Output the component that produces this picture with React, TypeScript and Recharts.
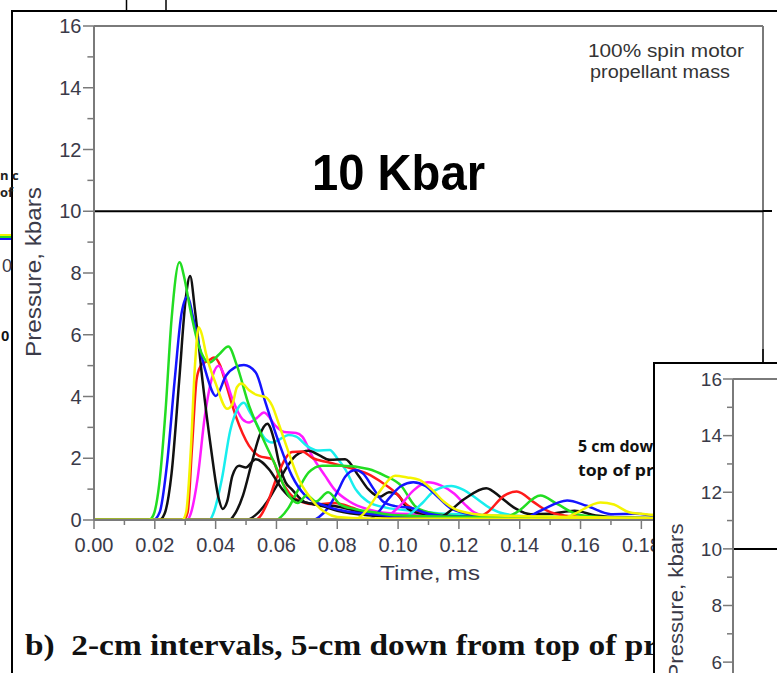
import React from 'react';
import { LineChart, Line, XAxis, YAxis, ReferenceLine } from 'recharts';

type Pt = [number, number];

// time (ms) vs pressure (kbars)
const greenA: Pt[] = [[0, 0], [0.018, 0], [0.0195, 0.15], [0.0215, 1.2], [0.0235, 3.5], [0.0255, 6.5], [0.0281, 8.35], [0.0298, 7.8], [0.0314, 6.95], [0.0346, 5.6], [0.038, 5.1], [0.041, 5.35], [0.0442, 5.62], [0.047, 5.0], [0.051, 3.7], [0.0553, 2.7], [0.0597, 1.76], [0.064, 0.8], [0.067, 0.55], [0.07, 0.8], [0.073, 0.6], [0.077, 0.9], [0.081, 0.5], [0.086, 0.35], [0.092, 0.25], [0.1, 0.15], [0.12, 0.1], [0.2, 0.05]];
const blackA: Pt[] = [[0, 0], [0.0215, 0], [0.0232, 0.2], [0.0255, 1.5], [0.028, 4.5], [0.0302, 7.2], [0.0316, 7.9], [0.0332, 6.8], [0.0357, 4.5], [0.0385, 2.3], [0.041, 0.7], [0.0423, 0.36], [0.0438, 0.6], [0.0455, 1.43], [0.0477, 1.76], [0.0499, 1.7], [0.0532, 1.97], [0.0575, 1.65], [0.0619, 1.0], [0.065, 0.7], [0.0695, 0.57], [0.075, 0.45], [0.08, 0.3], [0.09, 0.15], [0.1, 0.1], [0.2, 0.05]];
const blueA: Pt[] = [[0, 0], [0.0195, 0], [0.0216, 0.25], [0.024, 1.8], [0.0265, 4.5], [0.0288, 6.7], [0.0308, 7.25], [0.0325, 6.6], [0.0346, 5.64], [0.0368, 4.78], [0.0401, 4.02], [0.0434, 4.67], [0.0465, 4.95], [0.0493, 5.02], [0.0532, 4.78], [0.0564, 3.8], [0.0608, 2.51], [0.0651, 1.43], [0.0695, 0.79], [0.076, 0.46], [0.082, 0.3], [0.09, 0.2], [0.1, 0.12], [0.2, 0.05]];
const yellowA: Pt[] = [[0, 0], [0.029, 0], [0.0303, 0.25], [0.0318, 2.2], [0.0332, 5.0], [0.0344, 6.24], [0.0355, 6.0], [0.0368, 5.4], [0.0401, 4.4], [0.0438, 3.6], [0.0455, 3.75], [0.047, 4.3], [0.0485, 4.42], [0.051, 4.2], [0.0535, 4.05], [0.0564, 3.98], [0.0586, 3.7], [0.0608, 3.1], [0.064, 2.19], [0.0673, 1.33], [0.0706, 0.79], [0.076, 0.25], [0.08, 0.1], [0.09, 0.05], [0.2, 0.02]];
const redA: Pt[] = [[0, 0], [0.0295, 0], [0.0308, 0.25], [0.0322, 2.3], [0.0338, 4.6], [0.0355, 5.05], [0.0375, 5.15], [0.0395, 5.26], [0.0415, 5.0], [0.0434, 4.4], [0.0466, 3.37], [0.051, 2.4], [0.0542, 2.08], [0.0586, 1.97], [0.0608, 1.43], [0.064, 0.9], [0.068, 0.6], [0.073, 0.5], [0.079, 0.55], [0.085, 0.4], [0.09, 0.2], [0.1, 0.1], [0.2, 0.03]];
const magentaA: Pt[] = [[0, 0], [0.0305, 0], [0.0318, 0.2], [0.034, 1.3], [0.0365, 3.4], [0.039, 4.67], [0.041, 5.0], [0.0428, 4.7], [0.0455, 3.92], [0.0488, 3.27], [0.051, 3.16], [0.0535, 3.3], [0.0559, 3.48], [0.0597, 3.05], [0.0625, 2.85], [0.0665, 2.82], [0.0685, 2.7], [0.0717, 2.08], [0.076, 1.43], [0.079, 1.0], [0.084, 0.6], [0.09, 0.35], [0.1, 0.2], [0.2, 0.05]];
const cyanA: Pt[] = [[0, 0], [0.038, 0], [0.0392, 0.2], [0.042, 1.3], [0.0448, 2.9], [0.0475, 3.65], [0.0493, 3.8], [0.0512, 3.5], [0.0532, 3.16], [0.0564, 2.62], [0.0586, 2.51], [0.0612, 2.62], [0.064, 2.75], [0.0665, 2.7], [0.07, 2.4], [0.0735, 2.25], [0.0775, 2.27], [0.08, 2.0], [0.0826, 1.65], [0.086, 1.0], [0.09, 0.6], [0.096, 0.4], [0.105, 0.3], [0.115, 0.2], [0.2, 0.05]];
const blackB: Pt[] = [[0, 0], [0.0445, 0], [0.0458, 0.12], [0.049, 0.8], [0.052, 1.9], [0.0545, 2.75], [0.057, 3.12], [0.0592, 2.6], [0.0608, 1.87], [0.063, 1.22], [0.065, 1.0], [0.0695, 0.57], [0.074, 0.5], [0.079, 0.45], [0.084, 0.35], [0.09, 0.2], [0.1, 0.1], [0.2, 0.03]];
const blackC: Pt[] = [[0, 0], [0.05, 0], [0.053, 0.15], [0.057, 0.6], [0.06, 1.1], [0.063, 1.65], [0.0665, 2.1], [0.0706, 2.24], [0.074, 2.1], [0.0775, 1.95], [0.0826, 1.97], [0.087, 1.43], [0.0902, 1.0], [0.094, 0.75], [0.097, 0.9], [0.0995, 0.85], [0.1033, 0.36], [0.108, 0.2], [0.115, 0.12], [0.2, 0.03]];
const redB: Pt[] = [[0, 0], [0.053, 0], [0.0545, 0.1], [0.057, 0.55], [0.06, 1.35], [0.063, 2.0], [0.0651, 2.2], [0.0684, 2.22], [0.072, 2.0], [0.077, 1.87], [0.0837, 1.7], [0.09, 1.49], [0.0946, 1.22], [0.099, 0.9], [0.1033, 0.46], [0.108, 0.25], [0.115, 0.15], [0.13, 0.05], [0.2, 0.02]];
const greenB: Pt[] = [[0, 0], [0.06, 0], [0.0615, 0.1], [0.064, 0.4], [0.067, 0.95], [0.0706, 1.54], [0.075, 1.76], [0.0815, 1.76], [0.0902, 1.65], [0.0957, 1.43], [0.101, 1.11], [0.1055, 0.46], [0.11, 0.25], [0.12, 0.12], [0.2, 0.03]];
const blueB: Pt[] = [[0, 0], [0.072, 0], [0.074, 0.1], [0.077, 0.4], [0.08, 0.9], [0.0826, 1.4], [0.086, 1.62], [0.0885, 1.5], [0.092, 1.0], [0.095, 0.6], [0.099, 0.45], [0.104, 0.4], [0.11, 0.2], [0.12, 0.1], [0.2, 0.03]];
const yellowB: Pt[] = [[0, 0], [0.085, 0], [0.088, 0.14], [0.091, 0.5], [0.0945, 1.0], [0.099, 1.43], [0.103, 1.38], [0.107, 1.3], [0.111, 1.0], [0.115, 0.6], [0.12, 0.3], [0.13, 0.15], [0.2, 0.05]];
const blueC: Pt[] = [[0, 0], [0.09, 0], [0.093, 0.2], [0.097, 0.7], [0.101, 1.1], [0.105, 1.22], [0.109, 1.1], [0.113, 0.75], [0.117, 0.4], [0.123, 0.2], [0.13, 0.1], [0.2, 0.03]];
const magentaB: Pt[] = [[0, 0], [0.094, 0], [0.097, 0.15], [0.101, 0.5], [0.105, 0.95], [0.1098, 1.22], [0.114, 1.12], [0.1185, 0.85], [0.122, 0.5], [0.125, 0.25], [0.13, 0.12], [0.2, 0.03]];
const cyanB: Pt[] = [[0, 0], [0.1, 0], [0.104, 0.2], [0.108, 0.55], [0.112, 0.95], [0.1175, 1.1], [0.121, 1.0], [0.126, 0.68], [0.13, 0.4], [0.135, 0.2], [0.145, 0.1], [0.2, 0.03]];
const blackD: Pt[] = [[0, 0], [0.112, 0], [0.115, 0.14], [0.1218, 0.68], [0.129, 1.03], [0.1338, 0.73], [0.138, 0.41], [0.1436, 0.19], [0.15, 0.2], [0.158, 0.3], [0.165, 0.15], [0.175, 0.08], [0.2, 0.03]];
const redC: Pt[] = [[0, 0], [0.123, 0], [0.1294, 0.25], [0.1349, 0.79], [0.139, 0.92], [0.1447, 0.57], [0.149, 0.3], [0.155, 0.14], [0.165, 0.08], [0.2, 0.03]];
const greenC: Pt[] = [[0, 0], [0.132, 0], [0.139, 0.25], [0.1468, 0.79], [0.1523, 0.52], [0.1588, 0.19], [0.166, 0.1], [0.2, 0.03]];
const blueD: Pt[] = [[0, 0], [0.14, 0], [0.1468, 0.3], [0.1556, 0.63], [0.162, 0.46], [0.17, 0.19], [0.178, 0.2], [0.185, 0.12], [0.2, 0.05]];
const yellowC: Pt[] = [[0, 0], [0.152, 0], [0.158, 0.2], [0.1665, 0.57], [0.171, 0.5], [0.176, 0.25], [0.18, 0.2], [0.19, 0.12], [0.2, 0.05]];

// the next panel only shows its upper axis; its traces sit below the page edge
const insetBaseline: Pt[] = [[0, 0], [0.22, 0]];

// ticks past 0.18 sit under the next panel
const xTicks = [0, 0.01, 0.02, 0.03, 0.04, 0.05, 0.06, 0.07, 0.08, 0.09, 0.1, 0.11, 0.12, 0.13, 0.14, 0.15, 0.16, 0.17, 0.18];
const yTicks = [0, 1, 2, 3, 4, 5, 6, 7, 8, 9, 10, 11, 12, 13, 14, 15, 16];
const insetYTicks = [6, 7, 8, 9, 10, 11, 12, 13, 14, 15, 16];

const GREEN = '#22dd22';
const BLACK = '#111111';
const BLUE = '#1414ff';
const YELLOW = '#f4f400';
const RED = '#ff1a1a';
const MAGENTA = '#ff1aff';
const CYAN = '#18eeee';

// bottom -> top drawing order
const series = [
  { id: 'redA', color: RED, pts: redA },
  { id: 'magentaA', color: MAGENTA, pts: magentaA },
  { id: 'cyanA', color: CYAN, pts: cyanA },
  { id: 'blackB', color: BLACK, pts: blackB },
  { id: 'blackC', color: BLACK, pts: blackC },
  { id: 'redB', color: RED, pts: redB },
  { id: 'greenB', color: GREEN, pts: greenB },
  { id: 'blueB', color: BLUE, pts: blueB },
  { id: 'magentaB', color: MAGENTA, pts: magentaB },
  { id: 'cyanB', color: CYAN, pts: cyanB },
  { id: 'blueC', color: BLUE, pts: blueC },
  { id: 'blackD', color: BLACK, pts: blackD },
  { id: 'redC', color: RED, pts: redC },
  { id: 'greenC', color: GREEN, pts: greenC },
  { id: 'blueD', color: BLUE, pts: blueD },
  { id: 'blackA', color: BLACK, pts: blackA },
  { id: 'blueA', color: BLUE, pts: blueA },
  { id: 'greenA', color: GREEN, pts: greenA },
  { id: 'yellowA', color: YELLOW, pts: yellowA },
  { id: 'yellowB', color: YELLOW, pts: yellowB },
  { id: 'yellowC', color: YELLOW, pts: yellowC },
];

const SANS = 'Liberation Sans, Arial, sans-serif';
const AXIS = '#7a7a7a';
const LABEL = '#3a3a48';

const toRows = (pts: Pt[]) => pts.map(([t, p]) => ({ t, p }));

function XTick(props: any) {
  const { x, y, payload } = props;
  const major = Math.round(payload.value * 100) % 2 === 0;
  return (
    <g>
      <line x1={x} x2={x} y1={y} y2={y + (major ? 9 : 5)} stroke={AXIS} strokeWidth={1.5} />
      {major && (
        <text x={x} y={y + 32} textAnchor="middle" fontSize={20} fill={LABEL} fontFamily={SANS}>
          {payload.value.toFixed(2)}
        </text>
      )}
    </g>
  );
}

function makeYTick(fontSize: number, gap: number, len: number) {
  return function YTick(props: any) {
    const { x, y, payload } = props;
    const major = payload.value % 2 === 0;
    return (
      <g>
        <line x1={x - (major ? len : len * 0.6)} x2={x} y1={y} y2={y} stroke={AXIS} strokeWidth={1.5} />
        {major && (
          <text x={x - gap} y={y + fontSize * 0.36} textAnchor="end" fontSize={fontSize} fill={LABEL} fontFamily={SANS}>
            {payload.value}
          </text>
        )}
      </g>
    );
  };
}

const MainYTick = makeYTick(20, 12.5, 11);
const InsetYTick = makeYTick(19, 11, 10);

export default function App() {
  return (
    <div style={{ position: 'absolute', left: 0, top: 0, width: 777, height: 673, background: '#fff', overflow: 'hidden' }}>
      <div style={{ position: 'absolute', left: 0, top: 0 }}>
        <LineChart width={777} height={673} margin={{ top: 26, right: 14, bottom: 113, left: 34 }}>
          <XAxis
            dataKey="t"
            type="number"
            domain={[0, 0.22]}
            ticks={xTicks}
            interval={0}
            tickSize={0}
            tickMargin={0}
            tickLine={false}
            tick={<XTick />}
            height={40}
            axisLine={{ stroke: AXIS, strokeWidth: 2 }}
            allowDataOverflow
          />
          <YAxis
            type="number"
            domain={[0, 16]}
            ticks={yTicks}
            interval={0}
            tickSize={0}
            tickMargin={0}
            tickLine={false}
            tick={<MainYTick />}
            width={60}
            axisLine={{ stroke: AXIS, strokeWidth: 2 }}
            allowDataOverflow
          />
          <ReferenceLine segment={[{ x: 0, y: 16 }, { x: 0.22, y: 16 }]} stroke={AXIS} strokeWidth={2} />
          <ReferenceLine segment={[{ x: 0.22, y: 0 }, { x: 0.22, y: 16 }]} stroke={AXIS} strokeWidth={2} />
          <ReferenceLine y={10} stroke="#000" strokeWidth={2} />
          {series.map((s) => (
            <Line
              key={s.id}
              data={toRows(s.pts)}
              dataKey="p"
              type="monotone"
              stroke={s.color}
              strokeWidth={2.5}
              dot={false}
              activeDot={false}
              isAnimationActive={false}
            />
          ))}
        </LineChart>
      </div>

      <svg width={777} height={673} style={{ position: 'absolute', left: 0, top: 0, pointerEvents: 'none' }}>
        {/* page frame */}
        <line x1={12} y1={11} x2={777} y2={11} stroke="#000" strokeWidth={2} />
        <line x1={12} y1={10} x2={12} y2={673} stroke="#000" strokeWidth={2} />
        <line x1={126.5} y1={0} x2={126.5} y2={11} stroke="#000" strokeWidth={1.5} />
        <line x1={166} y1={0} x2={166} y2={11} stroke="#000" strokeWidth={1.5} />
        <line x1={763} y1={211} x2={772} y2={211} stroke="#000" strokeWidth={2} />

        {/* fragments of the neighbouring panel */}
        <text x={0} y={180} fontSize={13} fontWeight="bold" fill="#222" fontFamily="Open Sans, sans-serif">n c</text>
        <text x={0} y={197} fontSize={13} fontWeight="bold" fill="#222" fontFamily="Open Sans, sans-serif">of</text>
        <line x1={0} y1={235} x2={11} y2={235} stroke={YELLOW} strokeWidth={2} />
        <line x1={0} y1={237} x2={11} y2={237} stroke={GREEN} strokeWidth={2} />
        <line x1={0} y1={239} x2={11} y2={239} stroke={BLUE} strokeWidth={2} />
        <text x={2} y={272} fontSize={18} fill={LABEL} fontFamily={SANS}>0</text>
        <text x={1} y={341} fontSize={15} fontWeight="bold" fill="#111" fontFamily={SANS}>0</text>

        {/* annotations */}
        <text x={312} y={190} fontSize={50} fontWeight="bold" fill="#000" fontFamily={SANS} textLength={173} lengthAdjust="spacingAndGlyphs">10 Kbar</text>
        <text x={588} y={57} fontSize={18} fill="#333" fontFamily={SANS} textLength={156} lengthAdjust="spacingAndGlyphs">100% spin motor</text>
        <text x={590} y={78} fontSize={18} fill="#333" fontFamily={SANS} textLength={140} lengthAdjust="spacingAndGlyphs">propellant mass</text>
        <text x={578} y={452} fontSize={16} fontWeight="bold" fill="#111" fontFamily="Open Sans, sans-serif">5 cm dow</text>
        <text x={578} y={476} fontSize={16} fontWeight="bold" fill="#111" fontFamily="Open Sans, sans-serif" textLength={76} lengthAdjust="spacingAndGlyphs">top of pr</text>

        {/* axis titles */}
        <text x={380} y={580} fontSize={21} fill={LABEL} fontFamily={SANS} textLength={100} lengthAdjust="spacingAndGlyphs">Time, ms</text>
        <text
          x={33}
          y={272}
          dy="0.36em"
          fontSize={22}
          fill={LABEL}
          fontFamily={SANS}
          textAnchor="middle"
          transform="rotate(-90 33 272)"
          textLength={170}
          lengthAdjust="spacingAndGlyphs"
        >
          Pressure, kbars
        </text>

        {/* caption */}
        <text
          x={25}
          y={655}
          fontSize={29}
          fontWeight="bold"
          fill="#111"
          fontFamily="Liberation Serif, Times New Roman, serif"
          xmlSpace="preserve"
          textLength={633}
          lengthAdjust="spacingAndGlyphs"
        >
          {'b)  2-cm intervals, 5-cm down from top of pr'}
        </text>
        <line x1={763} y1={349} x2={763} y2={362} stroke="#000" strokeWidth={1.5} />
      </svg>

      {/* inset: next panel, partly visible */}
      <div
        style={{
          position: 'absolute',
          left: 653,
          top: 362,
          width: 124,
          height: 311,
          overflow: 'hidden',
          background: '#fff',
          borderLeft: '2px solid #000',
          borderTop: '2px solid #000',
          boxSizing: 'border-box',
        }}
      >
        <div style={{ position: 'absolute', left: 0, top: 0 }}>
          <LineChart width={300} height={488} margin={{ top: 15, right: 10, bottom: 20, left: 18 }}>
            <XAxis dataKey="t" type="number" domain={[0, 0.22]} hide />
            <YAxis
              type="number"
              domain={[0, 16]}
              ticks={insetYTicks}
              interval={0}
              tickSize={0}
              tickMargin={0}
              tickLine={false}
              tick={<InsetYTick />}
              width={60}
              axisLine={{ stroke: AXIS, strokeWidth: 2 }}
            />
            <ReferenceLine y={16} stroke={AXIS} strokeWidth={2} />
            <ReferenceLine y={10} stroke="#000" strokeWidth={2} />
            <Line
              data={toRows(insetBaseline)}
              dataKey="p"
              type="monotone"
              stroke={YELLOW}
              strokeWidth={2.5}
              dot={false}
              activeDot={false}
              isAnimationActive={false}
            />
          </LineChart>
        </div>
        <svg width={124} height={311} style={{ position: 'absolute', left: 0, top: 0, pointerEvents: 'none' }}>
          <text
            x={20}
            y={237}
            dy="0.36em"
            fontSize={21}
            fill={LABEL}
            fontFamily={SANS}
            textAnchor="middle"
            transform="rotate(-90 20 237)"
            textLength={155}
            lengthAdjust="spacingAndGlyphs"
          >
            Pressure, kbars
          </text>
        </svg>
      </div>
    </div>
  );
}
